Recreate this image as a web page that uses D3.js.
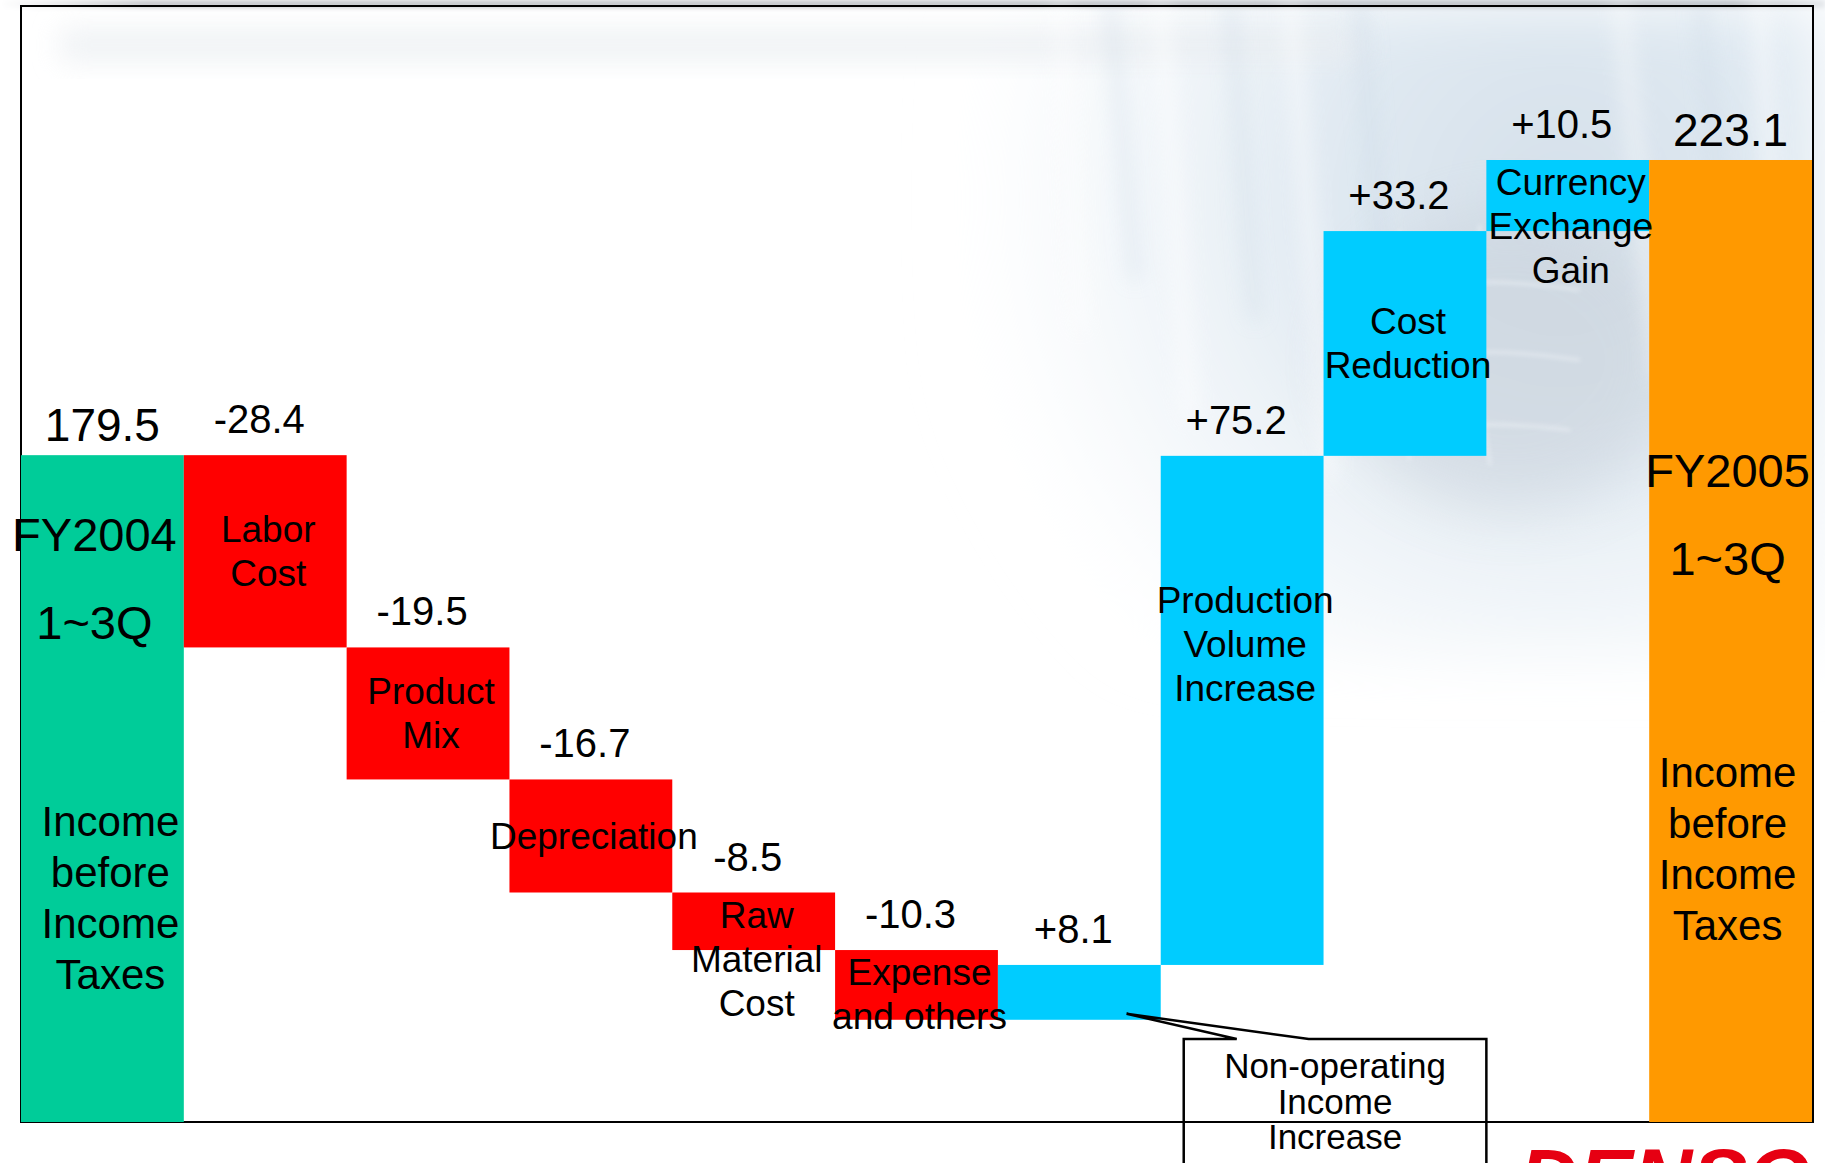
<!DOCTYPE html>
<html>
<head>
<meta charset="utf-8">
<script src="https://cdn.jsdelivr.net/npm/d3@7/dist/d3.min.js"></script>
<style>
  html, body { margin: 0; padding: 0; background: #ffffff; }
  svg { display: block; }
  text { font-family: "Liberation Sans", Arial, Helvetica, sans-serif; fill: #000; }
</style>
</head>
<body>
<svg id="chart" width="1825" height="1163"></svg>
<script>
// Income before income taxes bridge, FY2004 1~3Q -> FY2005 1~3Q (billions of yen)
const categories = [
  "FY2004 1~3Q", "Labor Cost", "Product Mix", "Depreciation", "Raw Material Cost",
  "Expense and others", "Non-operating Income Increase", "Production Volume Increase",
  "Cost Reduction", "Currency Exchange Gain", "FY2005 1~3Q"
];
const values = [179.5, -28.4, -19.5, -16.7, -8.5, -10.3, 8.1, 75.2, 33.2, 10.5, 223.1];
const kinds = ["start", "delta", "delta", "delta", "delta", "delta", "delta", "delta", "delta", "delta", "end"];
const barLabelLines = [
  ["FY2004", "1~3Q"], ["Labor", "Cost"], ["Product", "Mix"], ["Depreciation"],
  ["Raw", "Material", "Cost"], ["Expense", "and others"], ["Non-operating", "Income", "Increase"],
  ["Production", "Volume", "Increase"], ["Cost", "Reduction"], ["Currency", "Exchange", "Gain"],
  ["FY2005", "1~3Q"]
];
const totalCaption = ["Income", "before", "Income", "Taxes"];
const calloutCategory = "Non-operating Income Increase";

// value axis is cut: bars rise from this floor
const axisFloor = 81;

const svg = d3.select("#chart");
const W = 1825, H = 1163;
const plot = { left: 21, right: 1812, top: 160, bottom: 1122 };

// running totals for the waterfall
let running = 0;
const steps = categories.map((c, i) => {
  const v = values[i], k = kinds[i];
  let from, to;
  if (k === "delta") { from = running; to = running + v; running = to; }
  else { from = axisFloor; to = v; running = v; }
  return { cat: c, value: v, kind: k, from, to, lines: barLabelLines[i] };
});

const x = d3.scaleBand().domain(categories).range([plot.left, plot.right]).padding(0);
const y = d3.scaleLinear().domain([axisFloor, d3.max(values)]).range([plot.bottom, plot.top]);
const bw = x.bandwidth();

const fillOf = d => d.kind === "start" ? "#00CC99"
  : d.kind === "end" ? "#FF9900"
  : d.value < 0 ? "#FF0000" : "#00CCFF";

// ---------- backdrop ----------
const defs = svg.append("defs");
const blur = (id, s) => defs.append("filter").attr("id", id)
  .attr("x", "-50%").attr("y", "-50%").attr("width", "200%").attr("height", "200%")
  .append("feGaussianBlur").attr("stdDeviation", s);
blur("b2", 2); blur("b4", 4); blur("b10", 10); blur("b14", 14); blur("b30", 30);

const rg = defs.append("radialGradient").attr("id", "haze")
  .attr("cx", 1560).attr("cy", 200).attr("r", 640).attr("gradientUnits", "userSpaceOnUse");
rg.append("stop").attr("offset", 0).attr("stop-color", "#d2dee9").attr("stop-opacity", 0.95);
rg.append("stop").attr("offset", 0.4).attr("stop-color", "#dce7f0").attr("stop-opacity", 0.85);
rg.append("stop").attr("offset", 0.75).attr("stop-color", "#ecf2f7").attr("stop-opacity", 0.45);
rg.append("stop").attr("offset", 1).attr("stop-color", "#ffffff").attr("stop-opacity", 0);

const topShade = defs.append("linearGradient").attr("id", "topShade").attr("x1", 0).attr("x2", 1).attr("y1", 0).attr("y2", 0);
topShade.append("stop").attr("offset", 0).attr("stop-color", "#ffffff");
topShade.append("stop").attr("offset", 0.08).attr("stop-color", "#c9cbcf");
topShade.append("stop").attr("offset", 0.95).attr("stop-color", "#c3c7cc");
topShade.append("stop").attr("offset", 1).attr("stop-color", "#e6e9ec");

const bg = svg.append("g").attr("class", "backdrop");
bg.append("rect").attr("width", W).attr("height", H).attr("fill", "#ffffff");
bg.append("rect").attr("x", 960).attr("y", 0).attr("width", 865).attr("height", 660)
  .attr("fill", "url(#haze)").attr("filter", "url(#b30)");
bg.append("rect").attr("x", 0).attr("y", 0).attr("width", W).attr("height", 8)
  .attr("fill", "url(#topShade)").attr("filter", "url(#b2)");
bg.append("rect").attr("x", 60).attr("y", 28).attr("width", 1300).attr("height", 34)
  .attr("fill", "#e9edf1").attr("opacity", 0.7).attr("filter", "url(#b14)");

// grey mass behind the globe area
bg.append("ellipse").attr("cx", 1510).attr("cy", 360).attr("rx", 170).attr("ry", 150)
  .attr("fill", "#c4ccd5").attr("opacity", 0.45).attr("filter", "url(#b30)");

// light streaks across the hazy photo
const streaks = [
  [1060, 0, 1080, 330, 12, "#ffffff"], [1110, 0, 1135, 280, 8, "#c7d6e4"],
  [1160, 0, 1190, 420, 16, "#ffffff"], [1230, 0, 1255, 320, 8, "#c7d6e4"],
  [1290, 0, 1330, 480, 14, "#ffffff"], [1360, 0, 1380, 260, 9, "#c7d6e4"],
  [1620, 0, 1660, 380, 12, "#ffffff"], [1700, 0, 1730, 300, 8, "#c7d6e4"],
  [1760, 0, 1790, 520, 14, "#ffffff"]
];
bg.append("g").attr("filter", "url(#b10)").attr("opacity", 0.55)
  .selectAll("line").data(streaks).join("line")
  .attr("x1", d => d[0]).attr("y1", d => d[1]).attr("x2", d => d[2]).attr("y2", d => d[3])
  .attr("stroke", d => d[5]).attr("stroke-width", d => d[4]);

// faint globe grid
const grid = bg.append("g").attr("filter", "url(#b2)").attr("opacity", 0.5)
  .attr("fill", "none").attr("stroke", "#f4f7fa").attr("stroke-width", 3);
grid.append("path").attr("d", "M1340,300 Q1450,270 1580,290");
grid.append("path").attr("d", "M1340,370 Q1450,340 1580,360");
grid.append("path").attr("d", "M1350,440 Q1450,415 1570,430");
grid.append("path").attr("d", "M1400,230 Q1380,340 1410,460");
grid.append("path").attr("d", "M1480,225 Q1470,340 1490,465");

// ---------- frame ----------
svg.append("rect").attr("x", plot.left).attr("y", 6)
  .attr("width", plot.right + 1 - plot.left).attr("height", plot.bottom - 6)
  .attr("fill", "none").attr("stroke", "#000").attr("stroke-width", 2);

// ---------- bars ----------
svg.append("g").selectAll("rect").data(steps).join("rect")
  .attr("x", d => x(d.cat))
  .attr("y", d => y(Math.max(d.from, d.to)))
  .attr("width", bw)
  .attr("height", d => Math.abs(y(d.from) - y(d.to)))
  .attr("fill", fillOf);

// ---------- value labels ----------
const fmt = d => d.kind === "delta" ? (d.value > 0 ? "+" : "") + d.value.toFixed(1) : d.value.toFixed(1);
svg.append("g").selectAll("text").data(steps).join("text")
  .attr("x", d => x(d.cat) + bw / 2 - (d.kind === "delta" ? 6 : 0))
  .attr("y", d => y(Math.max(d.from, d.to)) - (d.kind === "delta" ? 22 : 14))
  .attr("text-anchor", "middle")
  .attr("font-size", d => d.kind === "delta" ? 40 : 46)
  .text(fmt);

// ---------- category labels inside the change bars ----------
const lineH = 44, catFont = 37;
const deltaLabels = svg.append("g");
steps.filter(d => d.kind === "delta" && d.cat !== calloutCategory).forEach(d => {
  const top = y(Math.max(d.from, d.to));
  const h = Math.abs(y(d.from) - y(d.to));
  const blockH = d.lines.length * lineH;
  const inset = Math.max(0, Math.min((h - blockH) / 2, 122));
  const t = deltaLabels.append("text")
    .attr("text-anchor", "middle").attr("font-size", catFont);
  d.lines.forEach((ln, i) => {
    t.append("tspan").attr("x", x(d.cat) + bw / 2 + 3)
      .attr("y", top + inset + lineH * (i + 0.5) + 13).text(ln);
  });
});

// ---------- labels inside the two totals ----------
const totalLayout = { start: { fy: 551, cap: 836, dx: -8, cdx: 8 }, end: { fy: 487, cap: 787, dx: -3, cdx: -3 } };
steps.filter(d => d.kind !== "delta").forEach(d => {
  const L = totalLayout[d.kind];
  const cx = x(d.cat) + bw / 2;
  const g = svg.append("g");
  g.append("text").attr("text-anchor", "middle").attr("font-size", 47)
    .selectAll("tspan").data(d.lines).join("tspan")
    .attr("x", cx + L.dx).attr("y", (s, i) => L.fy + i * 88).text(s => s);
  g.append("text").attr("text-anchor", "middle").attr("font-size", 42)
    .selectAll("tspan").data(totalCaption).join("tspan")
    .attr("x", cx + L.cdx).attr("y", (s, i) => L.cap + i * 51).text(s => s);
});

// ---------- callout for the non-operating income bar ----------
const cStep = steps.find(d => d.cat === calloutCategory);
const tipX = x(cStep.cat) + bw * 0.79;
const tipY = y(Math.min(cStep.from, cStep.to)) - 6;
const boxL = x(categories[7]) + 23, boxR = x(categories[9]), boxT = 1039;
svg.append("path")
  .attr("d", `M${boxL},${H + 40} L${boxL},${boxT} L${boxL + 53},${boxT} L${tipX},${tipY} ` +
             `L${boxL + 125},${boxT} L${boxR},${boxT} L${boxR},${H + 40}`)
  .attr("fill", "none").attr("stroke", "#000").attr("stroke-width", 2.5).attr("stroke-linejoin", "miter");
svg.append("text").attr("text-anchor", "middle").attr("font-size", 35)
  .selectAll("tspan").data(cStep.lines).join("tspan")
  .attr("x", (boxL + boxR) / 2).attr("y", (s, i) => 1078 + i * 35.5).text(s => s);

// ---------- corporate mark (runs off the bottom edge of the slide) ----------
svg.append("rect").attr("x", 1503).attr("y", 1141).attr("width", 322).attr("height", 30).attr("fill", "#fff");
svg.append("text").attr("x", 1519).attr("y", 1206)
  .attr("font-size", 82).attr("font-weight", "bold").attr("font-style", "italic")
  .style("fill", "#e60012").text("DENSO");
</script>
</body>
</html>
